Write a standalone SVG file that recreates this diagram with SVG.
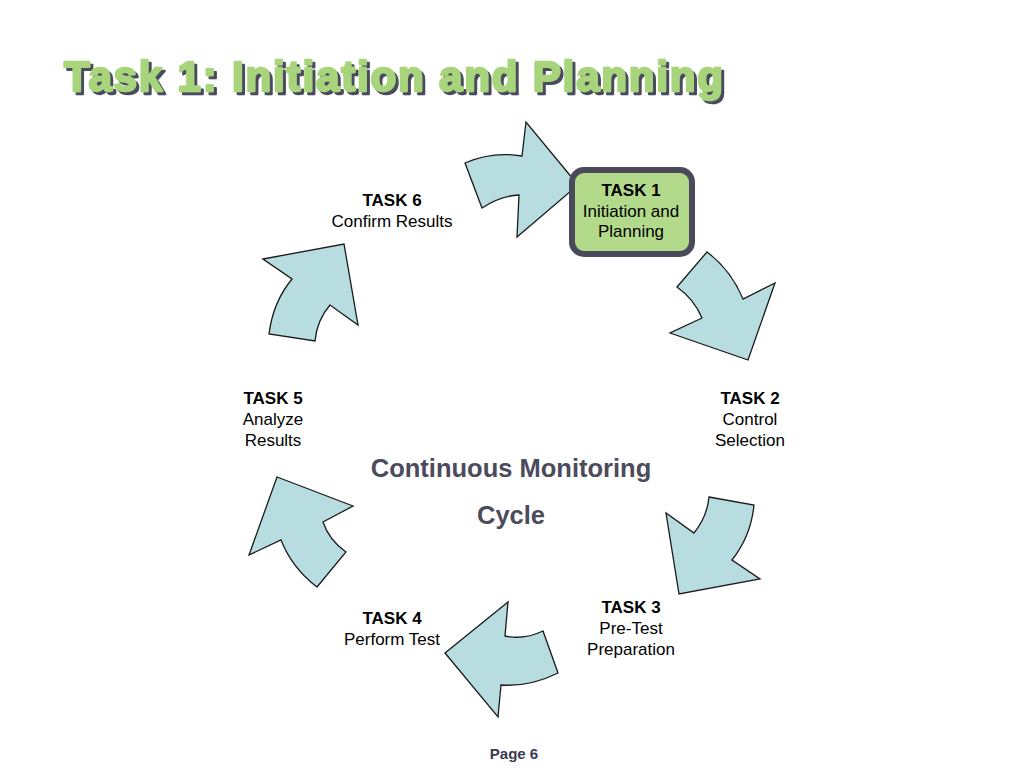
<svg xmlns="http://www.w3.org/2000/svg" width="1024" height="768" viewBox="0 0 1024 768">
  <defs>
    <filter id="shadow" x="-5%" y="-20%" width="110%" height="150%">
      <feFlood flood-color="#4b4b5e" result="c"/>
      <feComposite in="c" in2="SourceAlpha" operator="in" result="s"/>
      <feOffset in="s" dx="3" dy="3" result="so"/>
      <feMerge>
        <feMergeNode in="so"/>
        <feMergeNode in="SourceGraphic"/>
      </feMerge>
    </filter>
  </defs>
  <style>
    .arrow { fill: #b7dde0; stroke: #1a1a1a; stroke-width: 1.3; stroke-linejoin: miter; }
    .lbl { font-family: "Liberation Sans", Arial, sans-serif; font-size: 17px; fill: #000; text-anchor: middle; }
    .b { font-weight: bold; }
    .title { font-family: "Liberation Sans", Arial, sans-serif; font-size: 42px; font-weight: bold; stroke-width: 2.4; stroke-linejoin: round; fill: #a8d47c; stroke: #a8d47c; }
    .center { font-family: "Liberation Sans", Arial, sans-serif; font-size: 25.5px; font-weight: bold; fill: #4b4b5c; text-anchor: middle; }
  </style>
  <rect width="1024" height="768" fill="#ffffff"/>

  <g id="title">
    <text class="title" x="64" y="91" filter="url(#shadow)" textLength="659" lengthAdjust="spacing">Task 1: Initiation and Planning</text>
  </g>

  <g id="connectors">
    <path id="arrow-6-1" class="arrow" d="M 465 163 Q 492 151 522 156 L 526 122 L 578 185 L 517 237 L 519 195 Q 500 196 482 208 Z"/>
    <path id="arrow-1-2" class="arrow" d="M 677 287 L 707 252 Q 731 270 743 299 L 775 283 L 748 360 L 670 333 L 702 318 Q 694 299 677 287 Z"/>
    <path id="arrow-2-3" class="arrow" d="M 709 497 L 754 505 Q 751 536 732 560 L 760 579 L 679 594 L 666 513 L 694 533 Q 707 517 709 497 Z"/>
    <path id="arrow-3-4" class="arrow" d="M 445 653 L 508 602 L 505 636 Q 524 640 543 631 L 558 673 Q 530 687 501 685 L 498 717 Z"/>
    <path id="arrow-4-5" class="arrow" d="M 277 477 L 353 506 L 323 522 Q 329 540 346 552 L 317 587 Q 292 568 281 540 L 249 555 Z"/>
    <path id="arrow-5-6" class="arrow" d="M 263 259 L 344 244 L 358 325 L 330 305 Q 317 320 315 341 L 269 334 Q 273 302 292 279 Z"/>
  </g>

  <g id="task1">
    <rect x="572" y="170" width="120" height="84" rx="12" ry="12" fill="#b3d98a" stroke="#4a4a5a" stroke-width="6"/>
    <text class="lbl b" x="631" y="196">TASK 1</text>
    <text class="lbl" x="631" y="217">Initiation and</text>
    <text class="lbl" x="631" y="237">Planning</text>
  </g>

  <g id="task2">
    <text class="lbl b" x="750" y="404">TASK 2</text>
    <text class="lbl" x="750" y="425">Control</text>
    <text class="lbl" x="750" y="446">Selection</text>
  </g>

  <g id="task3">
    <text class="lbl b" x="631" y="613">TASK 3</text>
    <text class="lbl" x="631" y="634">Pre-Test</text>
    <text class="lbl" x="631" y="655">Preparation</text>
  </g>

  <g id="task4">
    <text class="lbl b" x="392" y="624">TASK 4</text>
    <text class="lbl" x="392" y="645">Perform Test</text>
  </g>

  <g id="task5">
    <text class="lbl b" x="273" y="404">TASK 5</text>
    <text class="lbl" x="273" y="425">Analyze</text>
    <text class="lbl" x="273" y="446">Results</text>
  </g>

  <g id="task6">
    <text class="lbl b" x="392" y="206">TASK 6</text>
    <text class="lbl" x="392" y="227">Confirm Results</text>
  </g>

  <g id="center-label">
    <text class="center" x="511" y="477">Continuous Monitoring</text>
    <text class="center" x="511" y="524">Cycle</text>
  </g>

  <g id="footer">
    <text x="514" y="759" font-family="Liberation Sans, Arial, sans-serif" font-size="15" font-weight="bold" fill="#3a3a50" text-anchor="middle">Page 6</text>
  </g>
</svg>
